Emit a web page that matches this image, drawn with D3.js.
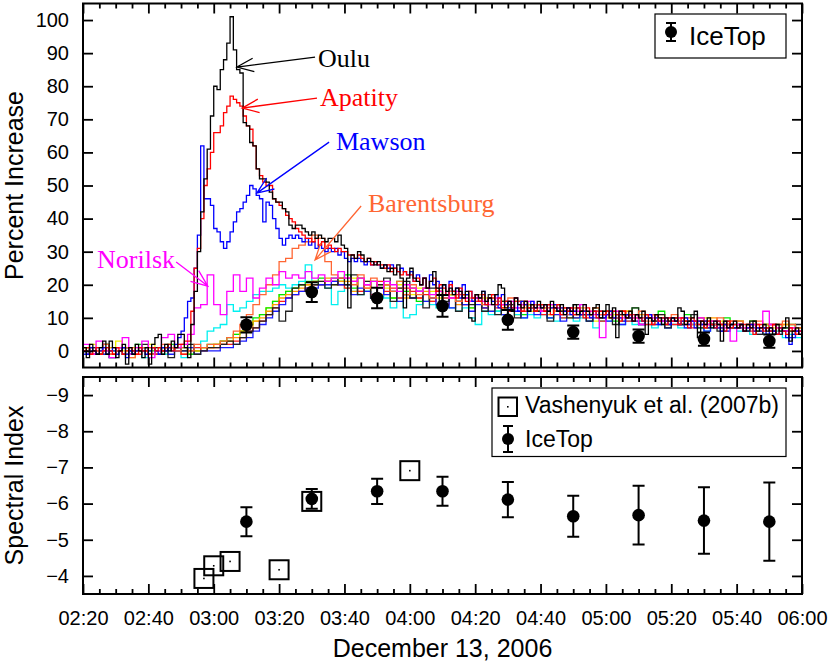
<!DOCTYPE html>
<html>
<head>
<meta charset="utf-8">
<script src="https://cdn.jsdelivr.net/npm/d3@7"></script>
<style>
  body { margin: 0; background: #fff; }
  svg { display: block; }
  text { font-family: "Liberation Sans", Arial, Helvetica, sans-serif; }
</style>
</head>
<body>
<svg id="chart"></svg>
<script>
// neutron monitor percent increase, 1-min bins from 02:20
const ouluPct = [
  1,-2,2,0,-1,1,3,-1,3,1, -2,0,2,-4,1,-1,2,0,-2,1, -4,2,4,5,-1,2,0,3,1,5,
  5,1,-2,8,18,30,42,52,61,71,
  80,79,85,88,93,101,91,85,84,69, 68,63,62,55,52,52,51,48,46,45,
  45,43,42,38,37,38,38,37,36,35, 36,34,35,34,33,34,34,33,35,32,
  31,13,29,28,30,29,27,28,27,26, 27,25,26,24,25,23,26,22,13,22,
  25,22,21,20,22,19,21,24,19,15, 20,18,19,17,19,18,16,18,10,9,
  17,16,18,15,16,14,17,20,19,13, 15,12,16,14,13,15,12,14,13,15,
  13,14,12,15,13,12,14,11,13,12, 14,11,12,14,12,11,13,14,10,12,
  14,10,13,4,12,11,10,12,9,11, 10,12,5,10,9,11,10,8,10,9,
  10,9,13,12,8,9,10,12,4,9, 8,10,7,9,8,3,9,7,8,9,
  7,8,6,8,7,9,6,7,8,6, 7,5,8,6,7,10,3,6,7,5
];
const apatityPct = [
  0,1,-1,0,1,-1,0,1,0,-1, 1,0,-1,0,1,0,-1,1,0,0, -1,1,0,1,0,1,2,0,1,2,
  2,3,3,12,25,31,40,50,55,60,
  66,66,68,72,74,77,76,75,74,71, 68,67,62,55,53,51,50,50,46,45,
  44,43,41,40,39,37,36,35,34,34, 33,34,32,33,31,32,31,30,31,30,
  30,29,29,28,29,28,27,28,26,27, 26,26,25,26,24,25,24,23,24,23,
  23,21,22,20,22,19,21,22,18,20, 19,17,20,18,16,19,17,15,18,16,
  17,15,17,14,16,17,14,16,13,15, 15,13,16,14,12,15,13,14,12,14,
  14,12,14,11,13,14,11,13,12,13, 11,13,12,10,13,11,12,10,12,11,
  12,10,12,11,9,12,10,11,9,11, 10,9,11,10,8,11,9,10,8,10,
  9,10,8,10,9,7,10,9,8,9, 7,9,8,7,9,8,6,9,7,8,
  7,8,6,8,7,5,8,7,6,7, 6,8,5,7,6,5,7,6,5,6
];
const mawsonPct = [
  0,-1,1,0,-1,0,1,-1,0,1, -1,0,1,-2,0,-1,0,1,0,-1, 0,1,0,-1,1,0,1,0,2,4,
  6,10,15,16,25,35,62,46,46,44,
  37,36,33,31,33,36,39,42,43,45, 47,50,49,47,46,39,45,44,40,37,
  34,32,34,35,34,35,34,33,34,32, 33,31,32,31,30,31,30,31,29,30,
  28,27,28,27,28,27,26,27,26,27, 26,25,26,25,26,25,24,25,24,23,
  24,21,23,20,22,19,23,20,21,19, 20,17,21,18,19,16,20,17,18,15,
  17,15,18,14,16,15,17,13,17,14, 15,13,16,12,15,14,12,15,13,14,
  13,14,12,13,14,12,13,12,13,11, 12,13,11,12,11,10,12,11,12,10,
  11,12,10,11,10,9,11,10,9,11, 10,9,10,11,9,10,8,10,9,8,
  10,9,8,9,10,8,9,7,9,8, 9,7,8,7,9,6,8,7,8,7,
  7,8,6,7,8,6,7,6,7,5, 7,6,5,7,6,4,2,5,6,5
];

// other stations, 2-min bins from 02:20
const barentsburgPct = [
  1,-1,0,2,-1,0,1,-2,0,1, -1,0,2,1,0,1,0,2,1,2,
  2,3,4,6,8,11,14,17,20,23, 27,28,31,32,33,35,34,27,23,22,
  22,20,23,19,22,19,20,18,21,17, 20,17,19,16,19,16,18,15,17,16,
  17,14,16,15,14,16,13,15,13,14, 12,14,12,13,11,13,12,11,13,11,
  12,10,12,11,10,12,9,11,10,9, 11,9,10,8,10,9,8,10,8,9,
  9,7,8,9,7,8,7,9,8,7
];
const norilskPct = [
  2,-1,3,0,-2,1,4,-1,1,3, -2,0,4,5,1,2,5,13,14,23,
  14,11,18,23,18,22,16,19,22,20, 24,22,23,22,24,22,23,21,22,24,
  22,21,22,20,21,19,21,20,18,20, 19,18,19,17,18,17,16,18,16,15,
  16,15,14,16,14,15,13,14,15,13, 12,14,13,11,13,12,14,12,11,4,
  11,12,10,11,10,8,11,10,9,10, 9,10,8,9,10,8,9,8,7,3,
  8,7,8,7,12,8,7,6,7,6
];
const greenPct = [
  1,0,-1,2,0,1,-1,0,2,1, 0,-1,1,2,0,1,-1,0,1,2,
  2,3,4,5,6,8,10,11,13,15, 17,18,19,20,21,21,22,21,22,21,
  23,19,22,18,21,17,20,16,21,18, 19,15,19,16,18,14,17,15,17,13,
  16,13,16,12,15,12,15,11,14,12, 13,10,14,11,13,10,12,11,13,9,
  12,9,12,10,13,9,11,9,12,8, 10,8,11,9,10,7,9,8,10,7,
  9,6,9,7,8,6,8,7,8,6
];
const cyanPct = [
  0,-1,1,0,-2,0,1,-1,0,-2, 1,0,-1,0,1,-2,0,1,3,6,
  7,8,14,12,13,15,17,18,18,19, 20,19,20,21,26,21,20,19,14,18,
  19,18,17,18,16,17,16,13,16,10, 11,14,15,14,13,14,13,12,13,10,
  8,12,11,12,11,12,11,10,11,10, 11,10,9,10,11,9,10,9,7,9,
  9,10,8,9,8,9,8,7,8,7, 8,7,7,8,7,6,7,7,6,7,
  6,6,5,6,5,5,6,4,5,4
];
const yellowPct = [
  1,2,0,-1,1,3,0,-2,1,0, 2,1,-1,0,1,2,-1,0,1,1,
  2,3,3,5,6,8,9,11,13,15, 17,18,19,20,20,21,20,21,20,21,
  19,22,18,21,17,20,19,16,20,17, 17,19,15,18,16,14,17,15,16,13,
  15,16,12,15,13,14,11,14,12,13, 12,14,11,12,10,13,11,12,9,12,
  10,11,9,12,10,9,11,8,10,9, 9,10,8,9,7,10,8,9,7,8,
  8,7,9,6,8,7,6,8,6,7
];
const orangePct = [
  0,1,-1,0,1,0,-1,1,0,0, 1,-1,0,1,0,-1,1,0,1,1,
  2,2,3,4,6,7,9,10,12,14, 16,17,18,19,20,21,21,22,21,21,
  21,18,22,19,21,17,20,18,19,16, 19,16,18,15,18,16,17,14,17,15,
  16,13,16,14,15,12,15,13,14,12, 13,11,14,12,13,10,13,11,12,10,
  12,10,11,12,9,11,10,9,11,8, 10,9,10,8,9,7,10,8,8,7,
  9,7,8,6,8,6,7,8,6,7
];
const blackLowPct = [
  0,1,-1,2,-2,0,1,-1,0,2, -1,1,0,-2,1,0,2,-1,0,1,
  1,2,3,2,4,6,7,9,11,13, 9,12,19,20,18,20,21,19,20,22,
  20,23,17,21,16,20,22,15,19,21, 16,18,13,19,17,15,18,12,16,14,
  16,12,17,11,15,14,10,15,13,12, 14,9,13,12,10,14,11,9,13,10,
  12,8,11,10,13,8,10,9,11,7, 10,8,9,11,7,9,8,6,9,7,
  8,6,9,5,7,8,5,7,6,8
];
const redLowPct = [
  0,-1,0,1,-1,0,1,0,-1,0, 1,-1,0,1,0,-1,0,1,0,1,
  1,2,2,3,4,6,7,9,11,13, 15,16,17,18,19,20,20,21,21,20,
  19,21,18,20,17,21,18,19,16,19, 18,16,17,15,18,14,16,17,14,15,
  15,13,16,13,14,12,15,12,13,14, 11,13,12,10,13,11,12,10,12,9,
  11,10,12,9,11,10,8,11,9,10, 8,10,9,7,9,8,9,7,8,9,
  7,8,6,8,7,6,8,6,7,5
];
const blueLowPct = [
  -1,0,1,-1,0,1,-1,0,0,1, -1,0,1,-1,0,0,1,-1,0,0,
  0,1,1,2,3,4,6,8,10,12, 14,16,17,18,19,19,20,20,21,20,
  20,17,19,18,16,19,17,18,15,17, 16,18,15,16,14,16,13,15,14,12,
  14,13,12,14,11,13,12,10,13,11, 12,10,11,9,12,10,11,9,10,11,
  9,10,8,11,9,8,10,8,9,7, 9,8,7,9,8,6,8,7,6,8,
  7,6,7,5,7,6,5,6,4,6
];

// IceTop
const iceTimes = ["03:10", "03:30", "03:50", "04:10", "04:30", "04:50", "05:10", "05:30", "05:50"];
const icePct = [7.9, 17.8, 16.0, 13.6, 9.4, 5.7, 4.5, 3.6, 3.0];
const icePctErr = [2.3, 3.0, 3.1, 3.3, 3.0, 2.0, 2.0, 2.0, 2.0];
const iceIndex = [-5.50, -6.13, -6.34, -6.34, -6.11, -5.65, -5.68, -5.53, -5.50];
const iceIndexErr = [0.40, 0.27, 0.35, 0.40, 0.49, 0.57, 0.81, 0.92, 1.08];

// Vashenyuk et al. (2007b)
const vashTimes = ["02:57", "03:00", "03:05", "03:20", "03:30", "04:00"];
const vashIndex = [-3.93, -4.28, -4.40, -4.17, -6.06, -6.91];

const xTickLabels = ["02:20", "02:40", "03:00", "03:20", "03:40", "04:00", "04:20", "04:40", "05:00", "05:20", "05:40", "06:00"];
const pctTicks = [0, 10, 20, 30, 40, 50, 60, 70, 80, 90, 100];
const indexTicks = [-4, -5, -6, -7, -8, -9];

const stations = [
  { name: "yellow", values: yellowPct, dt: 2, color: "#f0f000" },
  { name: "green", values: greenPct, dt: 2, color: "#00e800" },
  { name: "cyan", values: cyanPct, dt: 2, color: "#00f0f0" },
  { name: "orange", values: orangePct, dt: 2, color: "#ff9a00" },
  { name: "redLow", values: redLowPct, dt: 2, color: "#ff1a1a" },
  { name: "blueLow", values: blueLowPct, dt: 2, color: "#1a1aff" },
  { name: "blackLow", values: blackLowPct, dt: 2, color: "#222" },
  { name: "Barentsburg", values: barentsburgPct, dt: 2, color: "#ff6633" },
  { name: "Norilsk", values: norilskPct, dt: 2, color: "#ff00ff" },
  { name: "Mawson", values: mawsonPct, dt: 1, color: "#0000ff" },
  { name: "Apatity", values: apatityPct, dt: 1, color: "#ff0000" },
  { name: "Oulu", values: ouluPct, dt: 1, color: "#000000" }
];

// labels with arrows: [minutes, value]
const notes = [
  { label: "Oulu", color: "#000", at: [211.9, 85.8], from: [211.0, 88.8], to: [187.1, 85.8] },
  { label: "Apatity", color: "#ff0000", at: [212.5, 74.0], from: [211.6, 76.4], to: [188.7, 73.4] },
  { label: "Mawson", color: "#0000ff", at: [217.4, 60.7], from: [215.3, 63.1], to: [193.2, 47.7] },
  { label: "Barentsburg", color: "#ff6633", at: [227.2, 42.0], from: [225.1, 43.8], to: [211.0, 27.5] },
  { label: "Norilsk", color: "#ff00ff", at: [144.3, 25.1], from: [168.5, 26.9], to: [178.2, 19.6] }
];

const toMin = (s) => { const [h, m] = s.split(":").map(Number); return h * 60 + m; };
const clock = (m) => String(Math.floor(m / 60)).padStart(2, "0") + ":" + String(m % 60).padStart(2, "0");

const width = 830, height = 664;
const left = 83, right = 802;
const top1 = 3.5, bottom1 = 367.5;
const top2 = 377, bottom2 = 594;
const start = toMin("02:20");

const svg = d3.select("#chart").attr("width", width).attr("height", height);

const x = d3.scaleLinear().domain([toMin("02:20"), toMin("06:00")]).range([left, right]);
const yTop = d3.scaleLinear().domain([-5, 105]).range([bottom1, top1]);
const yBot = d3.scaleLinear().domain([-3.5, -9.5]).range([bottom2, top2]);

const majorX = xTickLabels.map(toMin);
const minorX = d3.range(toMin("02:20"), toMin("06:00") + 1, 5).filter((m) => m % 20 !== 0);

const drawFrame = (y, yTicks, y0, y1, labels) => {
  const g = svg.append("g");
  const tickStyle = (sel) => {
    sel.select(".domain").remove();
    sel.selectAll(".tick line").attr("stroke", "#000").attr("stroke-width", 1.8);
    sel.selectAll("text").attr("font-size", 20).attr("fill", "#000");
  };
  g.append("g").attr("transform", `translate(0,${y1})`)
    .call(d3.axisBottom(x).tickValues(majorX).tickSize(-10).tickPadding(17).tickFormat(labels ? clock : ""))
    .call(tickStyle);
  g.append("g").attr("transform", `translate(0,${y1})`)
    .call(d3.axisBottom(x).tickValues(minorX).tickSize(-5).tickFormat(""))
    .call(tickStyle);
  g.append("g").attr("transform", `translate(0,${y0})`)
    .call(d3.axisTop(x).tickValues(majorX).tickSize(-10).tickFormat(""))
    .call(tickStyle);
  g.append("g").attr("transform", `translate(0,${y0})`)
    .call(d3.axisTop(x).tickValues(minorX).tickSize(-5).tickFormat(""))
    .call(tickStyle);
  g.append("g").attr("transform", `translate(${left},0)`)
    .call(d3.axisLeft(y).tickValues(yTicks).tickSize(-10).tickPadding(14).tickFormat(d3.format("d")))
    .call(tickStyle);
  g.append("g").attr("transform", `translate(${right},0)`)
    .call(d3.axisRight(y).tickValues(yTicks).tickSize(-10).tickFormat(""))
    .call(tickStyle);
  g.append("rect")
    .attr("x", left).attr("y", y0).attr("width", right - left).attr("height", y1 - y0)
    .attr("fill", "none").attr("stroke", "#000").attr("stroke-width", 2);
};

// clip for station lines
svg.append("clipPath").attr("id", "clipTop").append("rect")
  .attr("x", left).attr("y", top1).attr("width", right - left).attr("height", bottom1 - top1);

const stepLine = d3.line().x((d) => x(d[0])).y((d) => yTop(d[1])).curve(d3.curveStepAfter);
const stepPoints = (vals, dt) => {
  const pts = vals.map((v, i) => [start + i * dt, v]);
  pts.push([start + vals.length * dt, vals[vals.length - 1]]);
  return pts;
};

const linesG = svg.append("g").attr("clip-path", "url(#clipTop)");
linesG.selectAll("path")
  .data(stations)
  .enter()
  .append("path")
  .attr("d", (d) => stepLine(stepPoints(d.values, d.dt)))
  .attr("fill", "none")
  .attr("stroke", (d) => d.color)
  .attr("stroke-width", 1.3);

// annotations
const serif = '"Liberation Serif", "Times New Roman", serif';
notes.forEach((n) => {
  const sx = x(n.from[0]), sy = yTop(n.from[1]);
  const tx = x(n.to[0]), ty = yTop(n.to[1]);
  const len = Math.hypot(sx - tx, sy - ty);
  const ux = (sx - tx) / len, uy = (sy - ty) / len;
  const head = 18, ang = 22 * Math.PI / 180;
  const rot = (a) => [tx + head * (ux * Math.cos(a) - uy * Math.sin(a)), ty + head * (ux * Math.sin(a) + uy * Math.cos(a))];
  const h1 = rot(ang), h2 = rot(-ang);
  svg.append("path")
    .attr("d", `M${sx},${sy}L${tx},${ty}M${h1[0]},${h1[1]}L${tx},${ty}L${h2[0]},${h2[1]}`)
    .attr("fill", "none").attr("stroke", n.color).attr("stroke-width", 1.3);
  svg.append("text")
    .attr("x", x(n.at[0])).attr("y", yTop(n.at[1]))
    .attr("fill", n.color).attr("font-size", 26)
    .style("font-family", serif)
    .text(n.label);
});

const errBar = (g, cx, cy, lo, hi, r, cap) => {
  g.append("path")
    .attr("d", `M${cx},${lo}V${hi}M${cx - cap},${lo}H${cx + cap}M${cx - cap},${hi}H${cx + cap}`)
    .attr("stroke", "#000").attr("stroke-width", 2).attr("fill", "none");
  g.append("circle").attr("cx", cx).attr("cy", cy).attr("r", r).attr("fill", "#000");
};

// IceTop percent increase
const iceTop = svg.append("g");
iceTimes.forEach((t, i) => {
  errBar(iceTop, x(toMin(t)), yTop(icePct[i]), yTop(icePct[i] - icePctErr[i]), yTop(icePct[i] + icePctErr[i]), 6.3, 6);
});

drawFrame(yTop, pctTicks, top1, bottom1, false);

// spectral index panel
const sq = 19;
const vashG = svg.append("g");
vashTimes.forEach((t, i) => {
  const cx = x(toMin(t)), cy = yBot(vashIndex[i]);
  vashG.append("rect")
    .attr("x", cx - sq / 2).attr("y", cy - sq / 2).attr("width", sq).attr("height", sq)
    .attr("fill", "none").attr("stroke", "#000").attr("stroke-width", 2);
  vashG.append("rect").attr("x", cx - 0.8).attr("y", cy - 0.8).attr("width", 1.6).attr("height", 1.6).attr("fill", "#000");
});
const iceBot = svg.append("g");
iceTimes.forEach((t, i) => {
  errBar(iceBot, x(toMin(t)), yBot(iceIndex[i]), yBot(iceIndex[i] - iceIndexErr[i]), yBot(iceIndex[i] + iceIndexErr[i]), 6.3, 6);
});

drawFrame(yBot, indexTicks, top2, bottom2, true);

// legends
const leg1 = svg.append("g");
leg1.append("rect").attr("x", 655).attr("y", 14).attr("width", 131).attr("height", 44)
  .attr("fill", "#fff").attr("stroke", "#000").attr("stroke-width", 1.2);
errBar(leg1, 671, 32, 41, 23, 6, 5);
leg1.append("text").attr("x", 689).attr("y", 45).attr("font-size", 26).text("IceTop");

const leg2 = svg.append("g");
leg2.append("rect").attr("x", 492).attr("y", 388).attr("width", 294).attr("height", 68.5)
  .attr("fill", "#fff").attr("stroke", "#000").attr("stroke-width", 1.2);
leg2.append("rect").attr("x", 498.5).attr("y", 397.5).attr("width", 18.5).attr("height", 18.5)
  .attr("fill", "none").attr("stroke", "#000").attr("stroke-width", 2);
leg2.append("rect").attr("x", 507).attr("y", 406).attr("width", 1.6).attr("height", 1.6).attr("fill", "#000");
leg2.append("text").attr("x", 525).attr("y", 413).attr("font-size", 23).text("Vashenyuk et al. (2007b)");
errBar(leg2, 508, 439, 452, 426, 6, 5);
leg2.append("text").attr("x", 525).attr("y", 447).attr("font-size", 23).text("IceTop");

// axis titles
svg.append("text")
  .attr("transform", `translate(23,${(top1 + bottom1) / 2}) rotate(-90)`)
  .attr("text-anchor", "middle").attr("font-size", 25).text("Percent Increase");
svg.append("text")
  .attr("transform", `translate(23,${(top2 + bottom2) / 2}) rotate(-90)`)
  .attr("text-anchor", "middle").attr("font-size", 25).text("Spectral Index");
svg.append("text")
  .attr("x", (left + right) / 2).attr("y", 657)
  .attr("text-anchor", "middle").attr("font-size", 25).text("December 13, 2006");
</script>
</body>
</html>
